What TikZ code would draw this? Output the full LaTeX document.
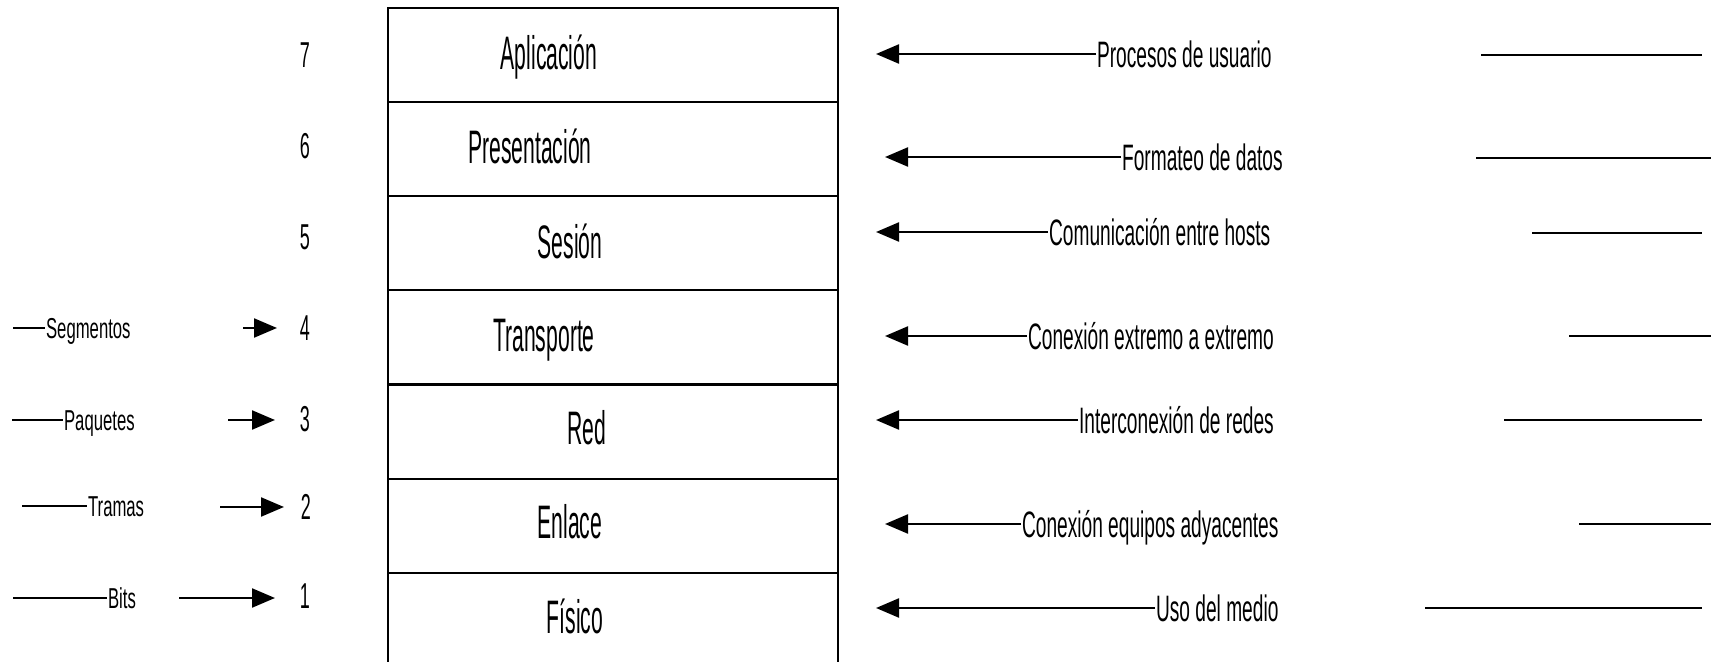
\documentclass[tikz,border=0pt]{standalone}
\usepackage{fontspec}
\setmainfont{Liberation Sans}
\newfontfamily\layerfont[FakeStretch=0.45]{Liberation Sans}
\newfontfamily\rolefont[FakeStretch=0.52]{Liberation Sans}
\newfontfamily\unitfont[FakeStretch=0.58]{Liberation Sans}
\newfontfamily\numfont[FakeStretch=0.5]{Liberation Sans}
\usetikzlibrary{arrows.meta}
\begin{document}
\begin{tikzpicture}[x=0.5pt,y=-0.5pt,
  line width=1.1pt,
  layer/.style={draw, minimum width=225pt, minimum height=47.1pt, inner sep=0pt},
  layername/.style={inner sep=0pt, text height=16.8pt, text depth=0pt,
    font=\layerfont\fontsize{23.5}{27}\selectfont},
  role/.style={inner sep=0pt, anchor=west, text height=13.2pt, text depth=0pt,
    font=\rolefont\fontsize{18.4}{21}\selectfont},
  unit/.style={inner sep=0pt, anchor=west, text height=10.3pt, text depth=0pt,
    font=\unitfont\fontsize{14.4}{17}\selectfont},
  num/.style={inner sep=0pt, text height=12.9pt, text depth=0pt,
    font=\numfont\fontsize{18}{21}\selectfont},
  arr/.style={-{Triangle[length=11.5pt,width=9.5pt]}}]
\useasboundingbox (0,0) rectangle (1719,662);
\clip (0,0) rectangle (1719,662);

% the seven layers of the stack
\foreach \k in {1,...,7}
  \node[layer] (layer\k) at (613,{54.8+(7-\k)*94.2}) {};

% layer names
\node[layername] (n7) at (549,53)  {Aplicación};
\node[layername] (n6) at (530,147) {Presentación};
\node[layername] (n5) at (570,242) {Sesión};
\node[layername] (n4) at (544,335) {Transporte};
\node[layername] (n3) at (587,428) {Red};
\node[layername] (n2) at (570,522) {Enlace};
\node[layername] (n1) at (575,617) {Físico};

% layer numbers
\node[num] (k7) at (305,55)  {7};
\node[num] (k6) at (305,146) {6};
\node[num] (k5) at (305,237) {5};
\node[num] (k4) at (305,328) {4};
\node[num] (k3) at (305,419) {3};
\node[num] (k2) at (306,507) {2};
\node[num] (k1) at (305,596) {1};

% data units on the left
\node[unit] (u4) at (45,328)  {Segmentos};
\node[unit] (u3) at (63,420)  {Paquetes};
\node[unit] (u2) at (87,506)  {Tramas};
\node[unit] (u1) at (107,598) {Bits};
\coordinate (ul4) at (13,328);
\coordinate (ul3) at (12,420);
\coordinate (ul2) at (22,506);
\coordinate (ul1) at (13,598);
\foreach \k in {1,...,4} \draw (ul\k) -- (u\k.west);

\coordinate (as4) at (243,328); \coordinate (at4) at (277,328);
\coordinate (as3) at (228,420); \coordinate (at3) at (275,420);
\coordinate (as2) at (220,507); \coordinate (at2) at (284,507);
\coordinate (as1) at (179,598); \coordinate (at1) at (275,598);
\foreach \k in {1,...,4} \draw[arr] (as\k) -- (at\k);

% functions on the right
\node[role] (r7) at (1096,54)  {Procesos de usuario};
\node[role] (r6) at (1121,157) {Formateo de datos};
\node[role] (r5) at (1048,232) {Comunicación entre hosts};
\node[role] (r4) at (1027,336) {Conexión extremo a extremo};
\node[role] (r3) at (1078,420) {Interconexión de redes};
\node[role] (r2) at (1021,524) {Conexión equipos adyacentes};
\node[role] (r1) at (1155,608) {Uso del medio};

\coordinate (t7) at (876,54);
\coordinate (t6) at (885,157);
\coordinate (t5) at (876,232);
\coordinate (t4) at (885,336);
\coordinate (t3) at (876,420);
\coordinate (t2) at (885,524);
\coordinate (t1) at (876,608);
\foreach \k in {1,...,7} \draw[arr] (r\k.west) -- (t\k);

% free lines at the right margin
\coordinate (la7) at (1481,55);  \coordinate (lb7) at (1702,55);
\coordinate (la6) at (1476,158); \coordinate (lb6) at (1711,158);
\coordinate (la5) at (1532,233); \coordinate (lb5) at (1702,233);
\coordinate (la4) at (1569,336); \coordinate (lb4) at (1711,336);
\coordinate (la3) at (1504,420); \coordinate (lb3) at (1702,420);
\coordinate (la2) at (1579,524); \coordinate (lb2) at (1711,524);
\coordinate (la1) at (1425,608); \coordinate (lb1) at (1702,608);
\foreach \k in {1,...,7} \draw (la\k) -- (lb\k);
\end{tikzpicture}
\end{document}
